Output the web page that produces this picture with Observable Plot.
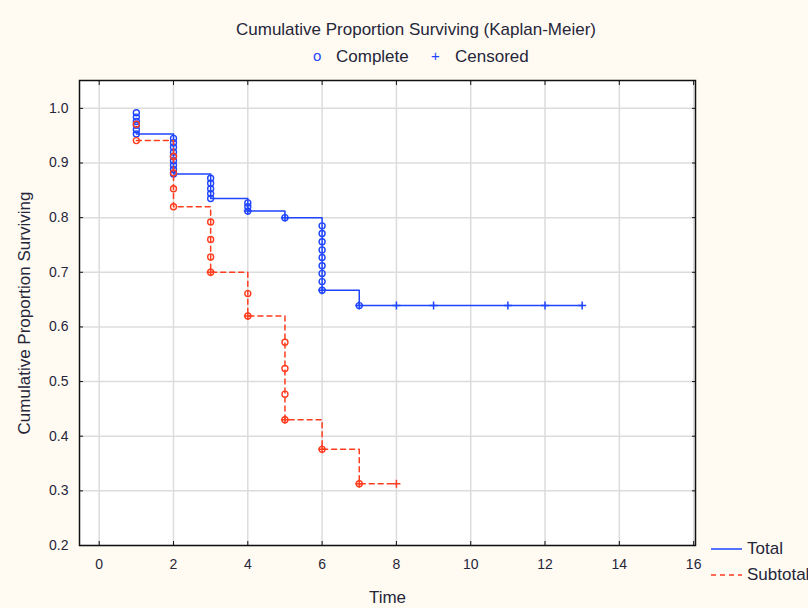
<!DOCTYPE html>
<html><head><meta charset="utf-8">
<script src="https://cdn.jsdelivr.net/npm/d3@7"></script>
<script src="https://cdn.jsdelivr.net/npm/@observablehq/plot@0.6"></script>
<style>
html,body{margin:0;padding:0;background:#fffbf2;}
#wrap{position:relative;width:808px;height:608px;overflow:hidden;font-family:"Liberation Sans",Arial,sans-serif;color:#26263a;font-size:17px;}
#title{position:absolute;left:0;width:832px;top:20px;text-align:center;white-space:nowrap;}
.lg{position:absolute;top:47px;white-space:nowrap;line-height:20px;}
#chart{position:absolute;left:0;top:70px;}
#botLegend{position:absolute;left:710px;top:536px;white-space:nowrap;}
#botLegend div{height:26px;display:flex;align-items:center;}
#botLegend svg{margin-right:5px;}
</style></head>
<body><div id="wrap">
<div id="title">Cumulative Proportion Surviving (Kaplan-Meier)</div>
<div class="lg" style="left:313px;top:46px;color:#1f45ff;font-size:15px;">o</div>
<div class="lg" style="left:336px;">Complete</div>
<div class="lg" style="left:431px;top:46px;color:#1f45ff;font-size:15px;">+</div>
<div class="lg" style="left:455px;">Censored</div>
<div id="chart"></div>
<div id="botLegend">
  <div><svg width="32" height="4"><line x1="1" y1="2" x2="32" y2="2" stroke="#1f45ff" stroke-width="1.5"/></svg>Total</div>
  <div><svg width="32" height="4"><line x1="1" y1="2" x2="32" y2="2" stroke="#ff3d1f" stroke-width="1.5" stroke-dasharray="5,4"/></svg>Subtotal</div>
</div>
</div>
<script>
// Tick values
const xTicks = [0, 2, 4, 6, 8, 10, 12, 14, 16];
const yTicks = [0.2, 0.3, 0.4, 0.5, 0.6, 0.7, 0.8, 0.9, 1.0];

// Total group (blue)
const totalStepTime  = [1, 2, 3, 4, 5, 6, 7, 13];
const totalStepValue = [0.953, 0.880, 0.835, 0.812, 0.800, 0.667, 0.639, 0.639];
const totalCompleteTime  = [1,1,1,1,1,1, 2,2,2,2,2,2,2,2,2, 3,3,3,3,3, 4,4,4, 5, 6,6,6,6,6,6,6,6,6, 7];
const totalCompleteValue = [0.992,0.984,0.976,0.969,0.961,0.953,
  0.945,0.937,0.929,0.920,0.912,0.904,0.896,0.888,0.880,
  0.872,0.863,0.853,0.844,0.835,
  0.827,0.820,0.812,
  0.800,
  0.785,0.771,0.756,0.741,0.727,0.712,0.698,0.683,0.667,
  0.639];
const totalCensoredTime  = [4, 5, 6, 7, 8, 9, 11, 12, 13];
const totalCensoredValue = [0.812, 0.800, 0.667, 0.639, 0.639, 0.639, 0.639, 0.639, 0.639];

// Subtotal group (red)
const subStepTime  = [1, 2, 3, 4, 5, 6, 7, 8];
const subStepValue = [0.941, 0.820, 0.700, 0.620, 0.430, 0.376, 0.313, 0.313];
const subCompleteTime  = [1,1, 2,2,2,2, 3,3,3,3, 4,4, 5,5,5,5, 6, 7];
const subCompleteValue = [0.971,0.941, 0.912,0.882,0.853,0.820, 0.792,0.760,0.728,0.700, 0.661,0.620, 0.572,0.524,0.477,0.430, 0.376, 0.313];
const subCensoredTime  = [3, 4, 5, 6, 7, 8];
const subCensoredValue = [0.700, 0.620, 0.430, 0.376, 0.313, 0.313];

const BLUE = "#1f45ff", RED = "#ff3d1f";
const rows = (ts, vs) => ts.map((t, i) => ({t, v: vs[i]}));
const plusSymbol = {draw(ctx, size) { const h = Math.sqrt(size / Math.PI); ctx.moveTo(-h, 0); ctx.lineTo(h, 0); ctx.moveTo(0, -h); ctx.lineTo(0, h); }};

const chart = Plot.plot({
  width: 808, height: 538,
  marginLeft: 79, marginRight: 113, marginTop: 10, marginBottom: 63,
  style: {background: "transparent", fontSize: "14px", fontFamily: "'Liberation Sans', Arial, sans-serif", color: "#26263a"},
  x: {domain: [-0.53, 16.05]},
  y: {domain: [0.2, 1.051]},
  marks: [
    Plot.frame({fill: "white", stroke: null}),
    Plot.gridX(xTicks, {stroke: "#dcdcdc", strokeOpacity: 1, strokeWidth: 1.5}),
    Plot.gridY(yTicks, {stroke: "#dcdcdc", strokeOpacity: 1, strokeWidth: 1.5}),
    Plot.axisX(xTicks, {anchor: "bottom", tickSize: -4, tickPadding: 18, stroke: "#111", label: null}),
    Plot.axisX({anchor: "bottom", ticks: [], label: "Time", labelAnchor: "center", labelOffset: 57, labelArrow: "none", fontSize: 17}),
    Plot.axisX(xTicks, {anchor: "top", tickSize: -4, stroke: "#111", tickFormat: () => "", label: null}),
    Plot.axisY(yTicks, {anchor: "left", tickSize: -4, tickPadding: 15, stroke: "#111", tickFormat: d3.format(".1f"), label: null}),
    Plot.axisY({anchor: "left", ticks: [], label: "Cumulative Proportion Surviving", labelAnchor: "center", labelOffset: 62, labelArrow: "none", fontSize: 17}),
    Plot.axisY(yTicks, {anchor: "right", tickSize: -4, stroke: "#111", tickFormat: () => "", label: null}),
    Plot.line(rows(totalStepTime, totalStepValue), {x: "t", y: "v", curve: "step-after", stroke: BLUE, strokeWidth: 1.5}),
    Plot.dot(rows(totalCompleteTime, totalCompleteValue), {x: "t", y: "v", r: 3, stroke: BLUE, strokeWidth: 1.4}),
    Plot.dot(rows(totalCensoredTime, totalCensoredValue), {x: "t", y: "v", r: 4, symbol: plusSymbol, stroke: BLUE, strokeWidth: 1.5}),
    Plot.line(rows(subStepTime, subStepValue), {x: "t", y: "v", curve: "step-after", stroke: RED, strokeWidth: 1.5, strokeDasharray: "5,4"}),
    Plot.dot(rows(subCompleteTime, subCompleteValue), {x: "t", y: "v", r: 3, stroke: RED, strokeWidth: 1.4}),
    Plot.dot(rows(subCensoredTime, subCensoredValue), {x: "t", y: "v", r: 4, symbol: plusSymbol, stroke: RED, strokeWidth: 1.5}),
    Plot.frame({stroke: "#111", strokeWidth: 1.5})
  ]
});
document.getElementById("chart").appendChild(chart);
</script>
</body></html>
